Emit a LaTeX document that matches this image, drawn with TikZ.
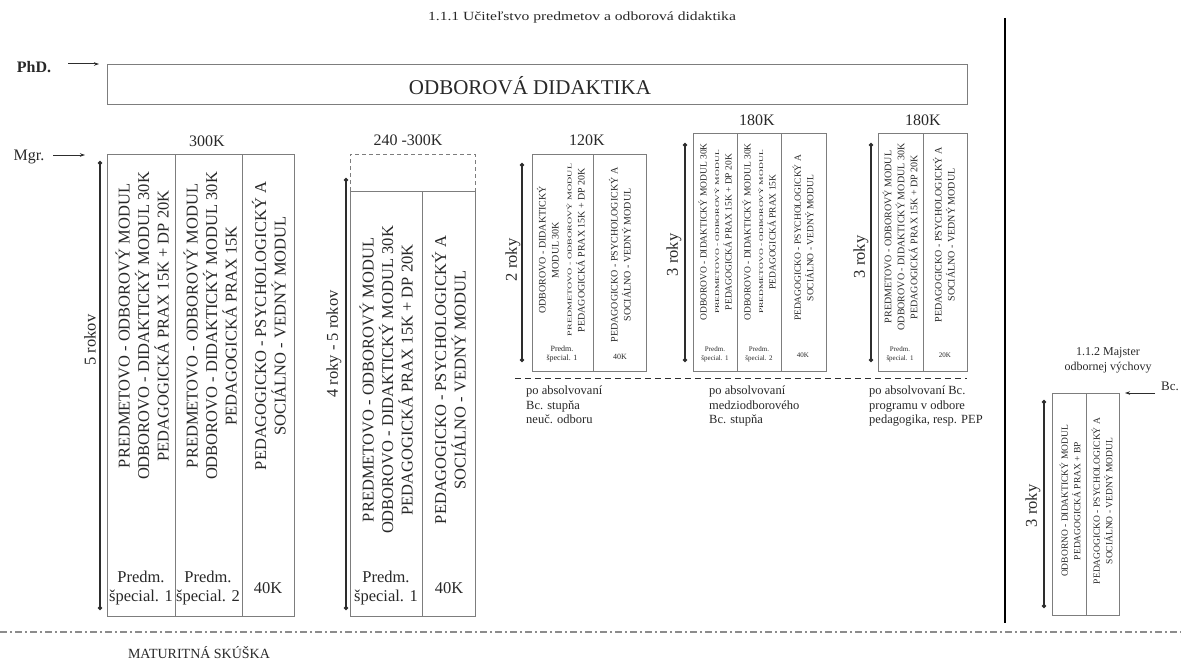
\documentclass[tikz,border=0pt]{standalone}
\usepackage{fontspec}
\setmainfont{Liberation Serif}
\usetikzlibrary{arrows.meta}
\definecolor{boxc}{RGB}{125,125,125}
\definecolor{txt}{RGB}{40,40,40}
\definecolor{dimc}{RGB}{45,45,45}
\definecolor{dashc}{RGB}{140,140,140}
\newcommand\setfs[2]{\fontsize{#1}{#2}\selectfont}
\newcommand\thin[1]{\scalebox{1}[0.6]{#1}}
\begin{document}
\begin{tikzpicture}[x=1pt,y=-1pt,
 box/.style={draw=boxc,line width=0.9pt},
 lbl/.style={inner sep=0pt,text=txt},
 vtxt/.style={lbl,rotate=90,align=center},
 big/.style={font=\setfs{16.5}{19.5}},
 midA/.style={font=\setfs{9.5}{12.5}},
 midB/.style={font=\setfs{10}{13}},
 dimline/.style={draw=dimc,line width=1.3pt,{Circle[length=4pt]}-{Circle[length=4pt]}},
 ptr/.style={draw=dimc,line width=1pt,-{Stealth[length=5pt,width=3.5pt]}},
]
\useasboundingbox (0,0) rectangle (1181,661);

% title
\node[lbl,font=\setfs{12.5}{14}] (title) at (582,17) {\scalebox{1.25}[1]{1.1.1 Učiteľstvo predmetov a odborová didaktika}};

% PhD
\node[lbl,font=\bfseries\setfs{16}{18}] (phd) at (34,67) {PhD.};
\coordinate (phdA) at (68,64);
\coordinate (phdB) at (99,64);
\draw[ptr] (phdA) -- (phdB);
\draw[box] (107,64) rectangle (967,104);
\node[lbl,font=\setfs{21}{23}] (odd) at (530,86) {ODBOROVÁ DIDAKTIKA};

% thick separator
\coordinate (sepA) at (1005,18);
\coordinate (sepB) at (1005,623);
\draw[line width=2.5pt,black] (sepA) -- (sepB);

% Mgr
\node[lbl,font=\setfs{16}{18}] (mgr) at (29,157) {Mgr.};
\coordinate (mgrA) at (53,155);
\coordinate (mgrB) at (85,155);
\draw[ptr] (mgrA) -- (mgrB);

% ---------- group 1 (300K)
\node[lbl,font=\setfs{16}{18}] (k300) at (207,141) {300K};
\draw[box] (107,154) rectangle (294,616);
\draw[box] (175,154) -- (175,616);
\draw[box] (242,154) -- (242,616);
\node[vtxt,big] (g1a) at (142,326) {PREDMETOVO - ODBOROVÝ MODUL\\ODBOROVO - DIDAKTICKÝ MODUL 30K\\PEDAGOGICKÁ PRAX 15K + DP 20K};
\node[vtxt,big] (g1b) at (210,326) {PREDMETOVO - ODBOROVÝ MODUL\\ODBOROVO - DIDAKTICKÝ MODUL 30K\\PEDAGOGICKÁ PRAX 15K};
\node[vtxt,big] (g1c) at (269,326) {PEDAGOGICKO - PSYCHOLOGICKÝ A\\SOCIÁLNO - VEDNÝ MODUL};
\node[lbl,big,align=center] (g1pa) at (141,588) {Predm.\\špecial. 1};
\node[lbl,big,align=center] (g1pb) at (208,588) {Predm.\\špecial. 2};
\node[lbl,big] (g1k) at (268,588) {40K};
\coordinate (d1a) at (100,161);
\coordinate (d1b) at (100,610);
\draw[dimline] (d1a) -- (d1b);
\node[lbl,big,rotate=90] (r1) at (90,340) {5 rokov};

% ---------- group 2 (240-300K)
\node[lbl,font=\setfs{16}{18}] (k240) at (408,140) {240 -300K};
\draw[box,dashed,dash pattern=on 4pt off 3pt] (350,191) -- (350,154) -- (475,154) -- (475,191);
\draw[box] (350,191) rectangle (475,616);
\draw[box] (422,191) -- (422,616);
\node[vtxt,big] (g2a) at (386,380) {PREDMETOVO - ODBOROVÝ MODUL\\ODBOROVO - DIDAKTICKÝ MODUL 30K\\PEDAGOGICKÁ PRAX 15K + DP 20K};
\node[vtxt,big] (g2b) at (449,380) {PEDAGOGICKO - PSYCHOLOGICKÝ A\\SOCIÁLNO - VEDNÝ MODUL};
\node[lbl,big,align=center] (g2p) at (386,588) {Predm.\\špecial. 1};
\node[lbl,big] (g2k) at (449,588) {40K};
\coordinate (d2a) at (346,178);
\coordinate (d2b) at (346,610);
\draw[dimline] (d2a) -- (d2b);
\node[lbl,big,rotate=90] (r2) at (334,344) {4 roky - 5 rokov};

% ---------- group 3 (120K)
\node[lbl,font=\setfs{16}{18}] (k120) at (587,140) {120K};
\draw[box] (532,154) rectangle (646,371);
\draw[box] (593,154) -- (593,371);
\node[vtxt,midB] (g3a) at (561,250) {ODBOROVO - DIDAKTICKÝ\\MODUL 30K\\\thin{PREDMETOVO - ODBOROVÝ MODUL}\\PEDAGOGICKÁ PRAX 15K + DP 20K};
\node[vtxt,midB] (g3b) at (620,255) {PEDAGOGICKO - PSYCHOLOGICKÝ A\\SOCIÁLNO - VEDNÝ MODUL};
\node[lbl,font=\setfs{8}{9.5},align=center] (g3p) at (562,354) {Predm.\\špecial. 1};
\node[lbl,font=\setfs{8}{9.5}] (g3k) at (620,357) {40K};
\coordinate (d3a) at (522,163);
\coordinate (d3b) at (522,362);
\draw[dimline] (d3a) -- (d3b);
\node[lbl,big,rotate=90] (r3) at (513,260) {2 roky};

% ---------- group 4 (180K)
\node[lbl,font=\setfs{16}{18}] (k180a) at (757,120) {180K};
\draw[box] (693,133) rectangle (826,371);
\draw[box] (737,133) -- (737,371);
\draw[box] (781,133) -- (781,371);
\node[vtxt,midA] (g4a) at (715,232) {ODBOROVO - DIDAKTICKÝ MODUL 30K\\\thin{PREDMETOVO - ODBOROVÝ MODUL}\\PEDAGOGICKÁ PRAX 15K + DP 20K};
\node[vtxt,midA] (g4b) at (759,232) {ODBOROVO - DIDAKTICKÝ MODUL 30K\\\thin{PREDMETOVO - ODBOROVÝ MODUL}\\PEDAGOGICKÁ PRAX 15K};
\node[vtxt,midA] (g4c) at (803,238) {PEDAGOGICKO - PSYCHOLOGICKÝ A\\SOCIÁLNO - VEDNÝ MODUL};
\node[lbl,font=\setfs{7}{9},align=center] (g4pa) at (715,354) {Predm.\\špecial. 1};
\node[lbl,font=\setfs{7}{9},align=center] (g4pb) at (759,354) {Predm.\\špecial. 2};
\node[lbl,font=\setfs{7}{9}] (g4k) at (803,355) {40K};
\coordinate (d4a) at (685,143);
\coordinate (d4b) at (685,362);
\draw[dimline] (d4a) -- (d4b);
\node[lbl,big,rotate=90] (r4) at (674,255) {3 roky};

% ---------- group 5 (180K)
\node[lbl,font=\setfs{16}{18}] (k180b) at (923,120) {180K};
\draw[box] (878,133) rectangle (967,371);
\draw[box] (923,133) -- (923,371);
\node[vtxt,midB] (g5a) at (900,237) {PREDMETOVO - ODBOROVÝ MODUL\\ODBOROVO - DIDAKTICKÝ MODUL 30K\\PEDAGOGICKÁ PRAX 15K + DP 20K};
\node[vtxt,midB] (g5b) at (944,235) {PEDAGOGICKO - PSYCHOLOGICKÝ A\\SOCIÁLNO - VEDNÝ MODUL};
\node[lbl,font=\setfs{7}{9},align=center] (g5p) at (900,354) {Predm.\\špecial. 1};
\node[lbl,font=\setfs{7}{9}] (g5k) at (945,355) {20K};
\coordinate (d5a) at (871,143);
\coordinate (d5b) at (871,362);
\draw[dimline] (d5a) -- (d5b);
\node[lbl,big,rotate=90] (r5) at (861,257) {3 roky};

% dashed separator and notes
\coordinate (dsA) at (515,378);
\coordinate (dsB) at (967,378);
\draw[dimc,line width=1pt,dash pattern=on 6pt off 4pt] (dsA) -- (dsB);
\node[lbl,font=\setfs{12.5}{14.5},align=left,anchor=north west] (n1) at (526,386) {po absolvovaní\\Bc. stupňa\\neuč. odboru};
\node[lbl,font=\setfs{12.5}{14.5},align=left,anchor=north west] (n2) at (709,386) {po absolvovaní\\medziodborového\\Bc. stupňa};
\node[lbl,font=\setfs{12.5}{14.5},align=left,anchor=north west] (n3) at (869,386) {po absolvovaní Bc.\\programu v odbore\\pedagogika, resp. PEP};

% ---------- Majster
\node[lbl,font=\setfs{12}{15},align=center] (maj) at (1108,360) {1.1.2 Majster\\odbornej výchovy};
\node[lbl,font=\setfs{13}{15}] (bc) at (1170,386) {Bc.};
\coordinate (bcA) at (1155,393);
\coordinate (bcB) at (1125,393);
\draw[ptr] (bcA) -- (bcB);
\draw[box] (1052,393) rectangle (1119,615);
\draw[box] (1086,393) -- (1086,615);
\node[vtxt,midA] (g6a) at (1070,501) {ODBORNO - DIDAKTICKÝ MODUL\\PEDAGOGICKÁ PRAX + BP};
\node[vtxt,midA] (g6b) at (1102,501) {PEDAGOGICKO - PSYCHOLOGICKÝ A\\SOCIÁLNO - VEDNÝ MODUL};
\coordinate (d6a) at (1044,400);
\coordinate (d6b) at (1044,608);
\draw[dimline] (d6a) -- (d6b);
\node[lbl,big,rotate=90] (r6) at (1033,506) {3 roky};

% maturita
\coordinate (mA) at (0,632);
\coordinate (mB) at (1181,632);
\draw[dashc,line width=1.2pt,dash pattern=on 7pt off 3pt on 2pt off 3pt] (mA) -- (mB);
\node[lbl,font=\setfs{14}{16}] (mat) at (199,653) {MATURITNÁ SKÚŠKA};
\end{tikzpicture}
\end{document}
